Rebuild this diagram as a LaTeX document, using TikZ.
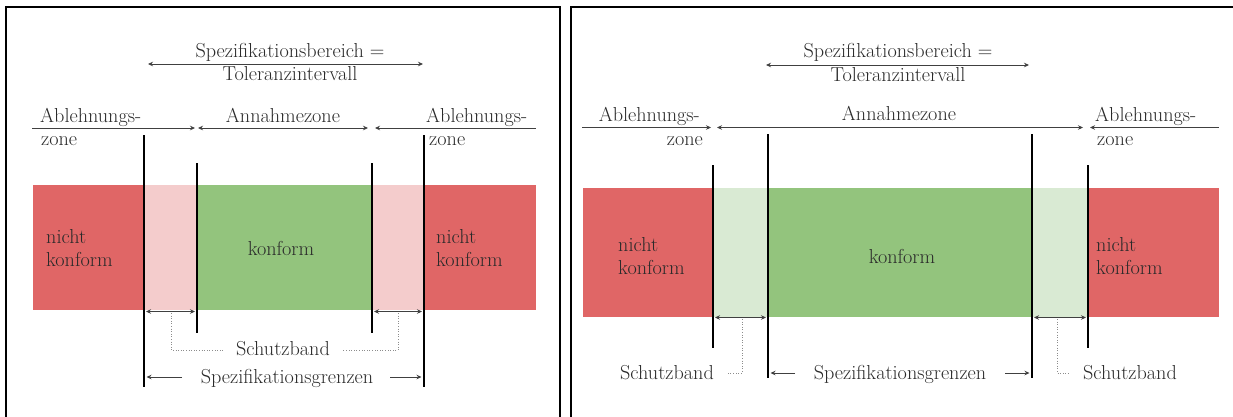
\documentclass[tikz,border=0pt]{standalone}
\usetikzlibrary{arrows.meta}
\definecolor{rejred}{HTML}{E06666}
\definecolor{accgreen}{HTML}{93C47D}
\definecolor{bandpink}{HTML}{F4CCCC}
\definecolor{bandgreen}{HTML}{D9EAD3}
\definecolor{txt}{HTML}{2A2A2A}
\tikzset{
  lbl/.style={inner sep=0pt, text=txt, font=\fontsize{20.2}{24}\selectfont},
  frame/.style={draw=black, line width=2pt},
  limit/.style={draw=black, line width=2.8pt},
  axis/.style={draw=black!75, line width=0.8pt},
  tip/.style={-{Stealth[length=5pt,width=4.5pt]}},
  tips/.style={{Stealth[length=5pt,width=4.5pt]}-{Stealth[length=5pt,width=4.5pt]}},
  guide/.style={draw=black!45, line width=0.6pt, dotted},
}
\begin{document}
\begin{tikzpicture}[x=1pt,y=-1pt]
\useasboundingbox (0,0) rectangle (1233,416);
\fill[white] (0,0) rectangle (1233,416);

% ---------------- left panel: guard band inside the tolerance ----------------
\draw[frame] (6,420) |- (560,7) -- (560,420);

\fill[rejred]   (33,185)  rectangle (536,310);
\fill[bandpink] (144,185) rectangle (197,310);
\fill[accgreen] (197,185) rectangle (372,310);
\fill[bandpink] (372,185) rectangle (424,310);

\node[lbl, anchor=base west] (Lnk1) at (46,243) {nicht};
\node[lbl, anchor=base west] (Lnk2) at (46,266) {konform};
\node[lbl, anchor=base] (Lk) at (281,255) {konform};
\node[lbl, anchor=base west] (Rnk1) at (436,243) {nicht};
\node[lbl, anchor=base west] (Rnk2) at (436,266) {konform};

% tolerance interval
\node[lbl, anchor=base] (Lspec1) at (290,57) {Spezifikationsbereich =};
\node[lbl, anchor=base] (Lspec2) at (290,80) {Toleranzintervall};
\coordinate (LtA) at (148,64);
\coordinate (LtB) at (423,64);
\draw[axis, tips] (LtA) -- (LtB);

% zone axis
\node[lbl, anchor=base west] (LabL1) at (40,122) {Ablehnungs-};
\node[lbl, anchor=base west] (LabL2) at (41,145) {zone};
\node[lbl, anchor=base] (Lann) at (283,122) {Annahmezone};
\node[lbl, anchor=base west] (LabR1) at (426,122) {Ablehnungs-};
\node[lbl, anchor=base west] (LabR2) at (429,145) {zone};
\coordinate (Lz0) at (32,128);
\coordinate (Lz1) at (195,128);
\coordinate (Lz2) at (198,128);
\coordinate (Lz3) at (368,128);
\coordinate (Lz4) at (375,128);
\coordinate (Lz5) at (536,128);
\draw[axis, tip] (Lz0) -- (Lz1);
\draw[axis, tips] (Lz2) -- (Lz3);
\draw[axis, <-, >={Stealth[length=5pt,width=4.5pt]}] (Lz4) -- (Lz5);

% limits
\draw[limit] (144,135) -- (144,387);
\draw[limit] (197,163) -- (197,333);
\draw[limit] (372,163) -- (372,333);
\draw[limit] (424,135) -- (424,387);

% guard band dimensions
\draw[axis, tips] (146,311.5) -- (195,311.5);
\draw[axis, tips] (374,311.5) -- (422,311.5);
\node[lbl, anchor=base] (Lschutz) at (283,355) {Schutzband};
\draw[guide] (171,313) |- (223,350);
\draw[guide] (398,313) |- (343,350);

\node[lbl, anchor=base] (Lgr) at (287,383) {Spezifikationsgrenzen};
\draw[axis, tip] (182,377) -- (146.5,377);
\draw[axis, tip] (390,377) -- (421.5,377);

% ---------------- right panel: guard band outside the tolerance ----------------
\draw[frame] (571,420) |- (1236,7);

\fill[rejred]    (583,188)  rectangle (1219,317);
\fill[bandgreen] (713,188)  rectangle (768,317);
\fill[accgreen]  (768,188)  rectangle (1032,317);
\fill[bandgreen] (1032,188) rectangle (1088,317);

\node[lbl, anchor=base west] (Rnk3) at (618,251) {nicht};
\node[lbl, anchor=base west] (Rnk4) at (618,274) {konform};
\node[lbl, anchor=base] (Rk) at (902,263) {konform};
\node[lbl, anchor=base west] (Rnk5) at (1096,251) {nicht};
\node[lbl, anchor=base west] (Rnk6) at (1096,274) {konform};

\node[lbl, anchor=base] (Rspec1) at (898,57) {Spezifikationsbereich =};
\node[lbl, anchor=base] (Rspec2) at (898,81) {Toleranzintervall};
\coordinate (RtA) at (766,65);
\coordinate (RtB) at (1029,65);
\draw[axis, tips] (RtA) -- (RtB);

\node[lbl, anchor=base east] (RabL1) at (700,121) {Ablehnungs-};
\node[lbl, anchor=base east] (RabL2) at (703,145) {zone};
\node[lbl, anchor=base] (Rann) at (899,120) {Annahmezone};
\node[lbl, anchor=base west] (RabR1) at (1095,121) {Ablehnungs-};
\node[lbl, anchor=base west] (RabR2) at (1097,145) {zone};
\coordinate (Rz0) at (582,127.5);
\coordinate (Rz1) at (711,127.5);
\coordinate (Rz2) at (717,127.5);
\coordinate (Rz3) at (1083,127.5);
\coordinate (Rz4) at (1090,127.5);
\coordinate (Rz5) at (1219,127.5);
\draw[axis, tip] (Rz0) -- (Rz1);
\draw[axis, tips] (Rz2) -- (Rz3);
\draw[axis, <-, >={Stealth[length=5pt,width=4.5pt]}] (Rz4) -- (Rz5);

\draw[limit] (713,165) -- (713,348);
\draw[limit] (768,134) -- (768,378);
\draw[limit] (1032,134) -- (1032,378);
\draw[limit] (1088,165) -- (1088,348);

\draw[axis, tips] (715,317.5) -- (766,317.5);
\draw[axis, tips] (1034,317.5) -- (1086,317.5);
\node[lbl, anchor=base] (Rschutz1) at (667,379) {Schutzband};
\node[lbl, anchor=base] (Rschutz2) at (1130,379) {Schutzband};
\draw[guide] (742,319) |- (727,373);
\draw[guide] (1057,319) |- (1070,373);

\node[lbl, anchor=base] (Rgr) at (900,379) {Spezifikationsgrenzen};
\draw[axis, tip] (795,373) -- (770.5,373);
\draw[axis, tip] (1005,373) -- (1029.5,373);
\end{tikzpicture}
\end{document}
